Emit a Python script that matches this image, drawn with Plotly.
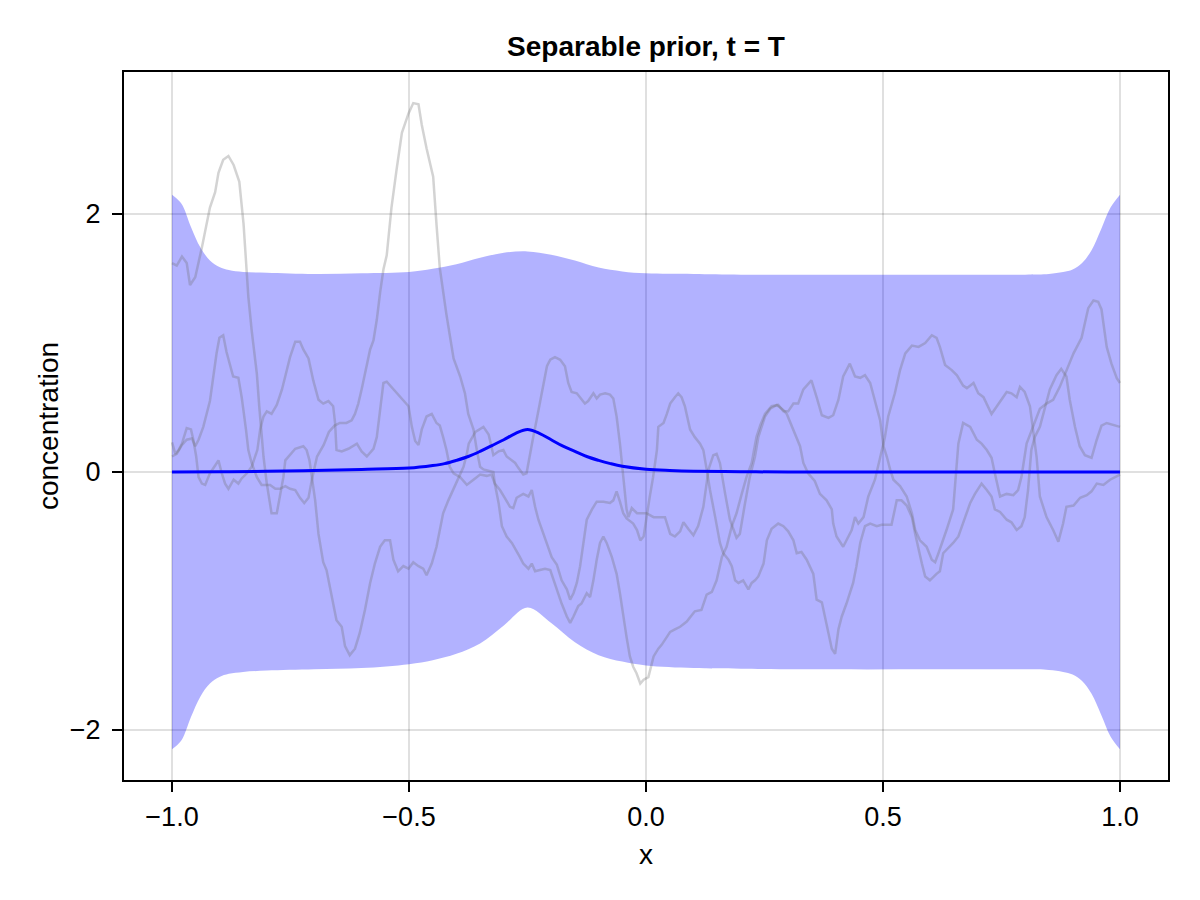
import plotly.graph_objects as go

# band (prior mean +- 2 sd)
band_x = [-1.0, -0.98, -0.96, -0.94, -0.92, -0.90, -0.88, -0.85, -0.80, -0.70, -0.60, -0.50, -0.45,
          -0.40, -0.35, -0.30, -0.25, -0.20, -0.15, -0.10, -0.05, 0.0, 0.10, 0.20, 0.40, 0.60,
          0.80, 0.85, 0.88, 0.90, 0.92, 0.94, 0.96, 0.98, 1.0]
band_upper = [2.15, 2.08, 1.90, 1.74, 1.64, 1.59, 1.565, 1.55, 1.545, 1.535, 1.54, 1.55, 1.575,
              1.61, 1.66, 1.70, 1.71, 1.685, 1.64, 1.585, 1.555, 1.54, 1.535, 1.53, 1.53, 1.53,
              1.53, 1.535, 1.55, 1.57, 1.62, 1.72, 1.88, 2.05, 2.15]
band_lower = [-2.15, -2.08, -1.90, -1.74, -1.64, -1.59, -1.565, -1.55, -1.54, -1.53, -1.52, -1.49, -1.46,
              -1.41, -1.33, -1.19, -1.05, -1.17, -1.32, -1.42, -1.47, -1.50, -1.52, -1.525, -1.53, -1.53,
              -1.53, -1.535, -1.55, -1.57, -1.62, -1.72, -1.88, -2.05, -2.15]

# prior mean
mean_x = [-1.0, -0.9, -0.8, -0.7, -0.6, -0.5, -0.45, -0.425, -0.4, -0.375, -0.35, -0.325, -0.3,
          -0.275, -0.25, -0.225, -0.2, -0.175, -0.15, -0.125, -0.1, -0.075, -0.05, 0.0, 0.05, 0.1,
          0.2, 0.3, 0.5, 0.7, 0.9, 1.0]
mean_y = [0.0, 0.002, 0.005, 0.012, 0.02, 0.03, 0.05, 0.065, 0.09, 0.12, 0.16, 0.205, 0.25,
          0.30, 0.33, 0.30, 0.25, 0.20, 0.16, 0.12, 0.09, 0.065, 0.045, 0.022, 0.012, 0.006,
          0.002, 0.0, 0.0, 0.0, 0.0, 0.0]

# three prior samples
s1_x = [-1.000, -0.990, -0.979, -0.969, -0.962, -0.951, -0.937, -0.920, -0.909, -0.902, -0.892, -0.881,
        -0.870, -0.858, -0.849, -0.839, -0.832, -0.821, -0.816, -0.807, -0.800, -0.795, -0.790, -0.779,
        -0.772, -0.765, -0.761, -0.751, -0.740, -0.723, -0.716, -0.710, -0.705, -0.698, -0.691, -0.681,
        -0.674, -0.667, -0.660, -0.653, -0.642, -0.635, -0.625, -0.614, -0.604, -0.593, -0.582, -0.572,
        -0.561, -0.551, -0.540, -0.533, -0.523, -0.512, -0.501, -0.491, -0.480, -0.470, -0.463, -0.452,
        -0.442, -0.435, -0.428, -0.417, -0.406, -0.396, -0.385, -0.378, -0.374, -0.360, -0.343, -0.332,
        -0.322, -0.311, -0.301, -0.294, -0.283, -0.276, -0.269, -0.259, -0.252, -0.245, -0.238, -0.231,
        -0.224, -0.216, -0.209, -0.202, -0.192, -0.181, -0.171, -0.164, -0.157, -0.146, -0.139, -0.129,
        -0.122, -0.111, -0.104, -0.097, -0.086, -0.076, -0.069, -0.062, -0.055, -0.048, -0.041, -0.037,
        -0.030, -0.019, -0.005, 0.001, 0.016, 0.040, 0.051, 0.061, 0.072, 0.079, 0.089, 0.100, 0.110,
        0.121, 0.132, 0.142, 0.149, 0.156, 0.167, 0.177, 0.191, 0.198, 0.209, 0.219, 0.230, 0.237,
        0.251, 0.262, 0.276, 0.290, 0.297, 0.311, 0.325, 0.332, 0.342, 0.356, 0.367, 0.381, 0.392,
        0.395, 0.402, 0.416, 0.423, 0.434, 0.441, 0.448, 0.459, 0.469, 0.483, 0.494, 0.504, 0.511,
        0.525, 0.536, 0.547, 0.561, 0.575, 0.589, 0.603, 0.613, 0.620, 0.631, 0.645, 0.656, 0.669,
        0.677, 0.691, 0.701, 0.712, 0.729, 0.740, 0.761, 0.771, 0.782, 0.789, 0.799, 0.810, 0.817,
        0.824, 0.831, 0.845, 0.859, 0.870, 0.880, 0.887, 0.902, 0.916, 0.930, 0.940, 0.951, 0.965,
        0.979, 1.000]
s1_y = [1.62, 1.60, 1.67, 1.62, 1.45, 1.51, 1.74, 2.05, 2.17, 2.32, 2.42, 2.45,
        2.38, 2.25, 1.92, 1.36, 1.10, 0.76, 0.51, 0.12, -0.09, -0.20, -0.32, -0.32,
        -0.19, -0.04, 0.09, 0.13, 0.18, 0.20, 0.17, 0.09, -0.04, -0.22, -0.48, -0.70,
        -0.76, -0.89, -1.02, -1.15, -1.20, -1.35, -1.42, -1.37, -1.25, -1.07, -0.86, -0.71,
        -0.58, -0.53, -0.53, -0.68, -0.77, -0.73, -0.75, -0.70, -0.73, -0.75, -0.80, -0.71,
        -0.58, -0.45, -0.32, -0.22, -0.13, -0.04, 0.04, 0.14, 0.22, 0.31, 0.35, 0.29,
        0.13, 0.16, 0.17, 0.12, 0.09, 0.07, 0.03, -0.02, -0.01, 0.14, 0.27, 0.40,
        0.53, 0.69, 0.82, 0.87, 0.89, 0.87, 0.82, 0.69, 0.62, 0.61, 0.58, 0.53,
        0.55, 0.61, 0.57, 0.60, 0.61, 0.60, 0.57, 0.43, 0.22, -0.04, -0.29, -0.35,
        -0.28, -0.32, -0.32, -0.32, -0.35, -0.35, -0.48, -0.50, -0.46, -0.39, -0.44, -0.49, -0.42,
        -0.27, 0.02, 0.13, 0.14, 0.07, -0.17, -0.37, -0.51, -0.48, -0.24, -0.04, 0.12, 0.27,
        0.43, 0.49, 0.52, 0.48, 0.45, 0.33, 0.20, 0.07, -0.01, -0.07, -0.17, -0.22, -0.29,
        -0.40, -0.50, -0.58, -0.53, -0.45, -0.35, -0.40, -0.35, -0.19, -0.06, 0.12, 0.27, 0.43,
        0.61, 0.79, 0.92, 0.98, 0.97, 1.00, 1.06, 1.04, 0.97, 0.83, 0.79, 0.75, 0.67,
        0.65, 0.69, 0.61, 0.58, 0.45, 0.51, 0.62, 0.61, 0.58, 0.66, 0.62, 0.51, 0.33,
        0.12, -0.19, -0.35, -0.45, -0.54, -0.40, -0.27, -0.26, -0.20, -0.18, -0.15, -0.09, -0.10,
        -0.06, -0.02]

s2_x = [-1.000, -0.993, -0.986, -0.979, -0.969, -0.960, -0.955, -0.949, -0.944, -0.937, -0.930, -0.920,
        -0.909, -0.902, -0.895, -0.888, -0.881, -0.870, -0.860, -0.853, -0.842, -0.832, -0.820, -0.814,
        -0.807, -0.800, -0.790, -0.779, -0.768, -0.758, -0.751, -0.740, -0.730, -0.723, -0.712, -0.702,
        -0.691, -0.681, -0.670, -0.660, -0.656, -0.653, -0.642, -0.628, -0.610, -0.600, -0.589, -0.575,
        -0.568, -0.561, -0.554, -0.547, -0.540, -0.526, -0.512, -0.501, -0.494, -0.487, -0.480, -0.473,
        -0.463, -0.452, -0.442, -0.435, -0.428, -0.421, -0.414, -0.406, -0.392, -0.378, -0.364, -0.350,
        -0.336, -0.326, -0.319, -0.308, -0.298, -0.287, -0.280, -0.273, -0.259, -0.248, -0.241, -0.234,
        -0.227, -0.220, -0.209, -0.199, -0.188, -0.178, -0.167, -0.160, -0.153, -0.146, -0.139, -0.132,
        -0.125, -0.114, -0.104, -0.090, -0.076, -0.069, -0.062, -0.055, -0.048, -0.041, -0.027, -0.019,
        -0.012, -0.005, 0.001, 0.008, 0.015, 0.023, 0.026, 0.037, 0.044, 0.051, 0.061, 0.068, 0.075,
        0.082, 0.093, 0.103, 0.114, 0.121, 0.128, 0.135, 0.146, 0.156, 0.163, 0.174, 0.181, 0.188,
        0.195, 0.205, 0.216, 0.223, 0.230, 0.237, 0.248, 0.255, 0.265, 0.279, 0.290, 0.300, 0.311,
        0.318, 0.328, 0.339, 0.353, 0.360, 0.371, 0.381, 0.392, 0.399, 0.406, 0.413, 0.423, 0.437,
        0.444, 0.452, 0.462, 0.473, 0.487, 0.497, 0.518, 0.529, 0.539, 0.550, 0.561, 0.568, 0.575,
        0.582, 0.589, 0.599, 0.613, 0.620, 0.627, 0.638, 0.648, 0.659, 0.669, 0.684, 0.694, 0.708,
        0.719, 0.729, 0.736, 0.747, 0.761, 0.771, 0.782, 0.792, 0.799, 0.806, 0.813, 0.820, 0.831,
        0.841, 0.852, 0.866, 0.876, 0.887, 0.894, 0.905, 0.915, 0.926, 0.940, 0.951, 0.961, 0.972,
        1.000]
s2_y = [0.23, 0.14, 0.17, 0.22, 0.34, 0.33, 0.25, 0.12, -0.04, -0.09, -0.10, -0.01,
        0.05, 0.09, -0.01, -0.09, -0.13, -0.06, -0.09, -0.05, -0.01, 0.04, 0.17, 0.33,
        0.43, 0.47, 0.45, 0.52, 0.64, 0.79, 0.89, 1.01, 1.01, 0.95, 0.88, 0.71,
        0.56, 0.53, 0.55, 0.51, 0.38, 0.17, 0.16, 0.18, 0.22, 0.16, 0.12, 0.18,
        0.27, 0.48, 0.69, 0.70, 0.67, 0.61, 0.55, 0.51, 0.35, 0.24, 0.21, 0.33,
        0.43, 0.45, 0.38, 0.36, 0.27, 0.17, 0.04, -0.01, -0.04, -0.10, -0.06, -0.02,
        -0.03, -0.02, -0.09, -0.14, -0.20, -0.27, -0.28, -0.20, -0.17, -0.19, -0.14, -0.27,
        -0.37, -0.44, -0.55, -0.66, -0.72, -0.84, -0.91, -0.99, -0.94, -0.86, -0.73, -0.53,
        -0.37, -0.29, -0.23, -0.23, -0.24, -0.22, -0.15, -0.23, -0.32, -0.36, -0.40, -0.45,
        -0.53, -0.50, -0.35, -0.19, -0.04, 0.17, 0.35, 0.38, 0.45, 0.53, 0.58, 0.61, 0.58,
        0.51, 0.33, 0.27, 0.22, 0.17, 0.02, -0.14, -0.35, -0.55, -0.63, -0.68, -0.73, -0.84,
        -0.86, -0.84, -0.91, -0.86, -0.84, -0.81, -0.71, -0.53, -0.44, -0.40, -0.42, -0.46, -0.53,
        -0.63, -0.62, -0.68, -0.79, -0.99, -1.01, -1.17, -1.37, -1.41, -1.22, -1.12, -1.02, -0.86,
        -0.73, -0.55, -0.42, -0.40, -0.42, -0.41, -0.41, -0.22, -0.22, -0.26, -0.35, -0.48, -0.60,
        -0.71, -0.81, -0.84, -0.79, -0.77, -0.63, -0.59, -0.55, -0.50, -0.40, -0.24, -0.17, -0.09,
        -0.14, -0.19, -0.29, -0.31, -0.37, -0.39, -0.45, -0.42, -0.35, -0.14, 0.17, 0.27, 0.35,
        0.49, 0.64, 0.75, 0.80, 0.74, 0.56, 0.35, 0.20, 0.13, 0.11, 0.25, 0.36, 0.38,
        0.35]

s3_x = [-1.000, -0.990, -0.979, -0.969, -0.958, -0.951, -0.944, -0.934, -0.920, -0.913, -0.906, -0.900,
        -0.892, -0.885, -0.878, -0.871, -0.860, -0.853, -0.844, -0.839, -0.832, -0.821, -0.811, -0.793,
        -0.782, -0.772, -0.761, -0.751, -0.740, -0.730, -0.721, -0.712, -0.705, -0.694, -0.680, -0.669,
        -0.657, -0.646, -0.632, -0.621, -0.614, -0.607, -0.600, -0.590, -0.582, -0.575, -0.568, -0.561,
        -0.554, -0.547, -0.537, -0.526, -0.515, -0.501, -0.491, -0.480, -0.473, -0.463, -0.449, -0.442,
        -0.435, -0.421, -0.406, -0.392, -0.382, -0.375, -0.364, -0.357, -0.350, -0.343, -0.333, -0.322,
        -0.319, -0.311, -0.304, -0.294, -0.283, -0.273, -0.266, -0.259, -0.248, -0.241, -0.234, -0.224,
        -0.213, -0.202, -0.195, -0.185, -0.178, -0.167, -0.160, -0.153, -0.143, -0.136, -0.125, -0.118,
        -0.111, -0.104, -0.097, -0.090, -0.083, -0.072, -0.062, -0.055, -0.048, -0.041, -0.034, -0.027,
        -0.020, -0.012, -0.005, 0.005, 0.016, 0.026, 0.033, 0.044, 0.051, 0.061, 0.072, 0.086, 0.096,
        0.103, 0.117, 0.128, 0.139, 0.149, 0.160, 0.170, 0.181, 0.191, 0.202, 0.212, 0.223, 0.233,
        0.241, 0.251, 0.265, 0.279, 0.290, 0.300, 0.311, 0.321, 0.332, 0.349, 0.360, 0.371, 0.385,
        0.395, 0.406, 0.416, 0.430, 0.441, 0.452, 0.462, 0.473, 0.483, 0.494, 0.501, 0.508, 0.515,
        0.522, 0.536, 0.550, 0.561, 0.568, 0.578, 0.592, 0.603, 0.610, 0.617, 0.627, 0.634, 0.648,
        0.655, 0.659, 0.669, 0.684, 0.698, 0.708, 0.719, 0.729, 0.736, 0.747, 0.761, 0.775, 0.785,
        0.792, 0.803, 0.817, 0.831, 0.845, 0.859, 0.873, 0.887, 0.902, 0.919, 0.926, 0.933, 0.944,
        0.954, 0.961, 0.972, 0.982, 0.993, 1.000]
s3_y = [0.12, 0.14, 0.21, 0.25, 0.26, 0.20, 0.25, 0.35, 0.55, 0.74, 0.92, 1.04,
        1.06, 0.93, 0.83, 0.74, 0.73, 0.58, 0.33, 0.17, 0.07, -0.04, -0.10, -0.10,
        -0.13, -0.13, -0.11, -0.13, -0.14, -0.20, -0.24, -0.20, -0.06, 0.12, 0.21, 0.31,
        0.36, 0.38, 0.38, 0.40, 0.45, 0.53, 0.64, 0.80, 0.95, 1.02, 1.18, 1.39,
        1.57, 1.68, 2.05, 2.35, 2.63, 2.78, 2.86, 2.85, 2.69, 2.51, 2.29, 1.92,
        1.58, 1.22, 0.88, 0.74, 0.61, 0.45, 0.33, 0.17, 0.04, 0.02, 0.01, 0.00,
        -0.09, -0.24, -0.42, -0.50, -0.55, -0.61, -0.66, -0.71, -0.75, -0.71, -0.77, -0.76,
        -0.75, -0.76, -0.84, -0.94, -1.02, -1.12, -1.17, -1.12, -1.04, -1.02, -0.94, -0.97,
        -0.84, -0.68, -0.55, -0.50, -0.55, -0.66, -0.79, -0.94, -1.12, -1.28, -1.43, -1.51,
        -1.56, -1.64, -1.61, -1.59, -1.43, -1.37, -1.34, -1.28, -1.24, -1.22, -1.20, -1.16, -1.11,
        -1.08, -1.07, -0.95, -0.93, -0.84, -0.66, -0.58, -0.42, -0.32, -0.17, -0.04, 0.07, 0.27,
        0.36, 0.45, 0.51, 0.52, 0.47, 0.47, 0.53, 0.53, 0.64, 0.71, 0.58, 0.44, 0.42,
        0.44, 0.56, 0.74, 0.84, 0.74, 0.73, 0.75, 0.69, 0.56, 0.40, 0.20, 0.12, 0.02,
        -0.06, -0.11, -0.19, -0.32, -0.45, -0.53, -0.58, -0.68, -0.70, -0.63, -0.53, -0.45, -0.29,
        0.04, 0.22, 0.38, 0.35, 0.25, 0.22, 0.17, 0.11, -0.01, -0.19, -0.17, -0.18, -0.14,
        -0.04, 0.22, 0.35, 0.49, 0.53, 0.56, 0.66, 0.79, 0.92, 1.04, 1.15, 1.27, 1.33,
        1.32, 1.26, 0.97, 0.84, 0.73, 0.69]

FONT = "Liberation Sans, Arial, sans-serif"

fig = go.Figure()

# band
fig.add_trace(go.Scatter(x=band_x, y=band_lower, mode="lines", line=dict(width=0, shape="spline"),
                         hoverinfo="skip", showlegend=False))
fig.add_trace(go.Scatter(x=band_x, y=band_upper, mode="lines", line=dict(width=0, shape="spline"),
                         fill="tonexty", fillcolor="rgba(0,0,255,0.3)", hoverinfo="skip",
                         showlegend=False))

# samples
for sx, sy in [(s1_x, s1_y), (s2_x, s2_y), (s3_x, s3_y)]:
    fig.add_trace(go.Scatter(x=sx, y=sy, mode="lines",
                             line=dict(color="rgba(110,110,110,0.3)", width=2.5),
                             showlegend=False))

# mean
fig.add_trace(go.Scatter(x=mean_x, y=mean_y, mode="lines",
                         line=dict(color="#0000ff", width=3, shape="spline"), showlegend=False))

axis_style = dict(showline=True, mirror=True, linecolor="black", linewidth=2,
                  ticks="outside", ticklen=10, tickwidth=2, tickcolor="black",
                  showgrid=True, gridcolor="rgba(0,0,0,0.12)", gridwidth=1.5,
                  zeroline=False, tickfont=dict(family=FONT, size=27, color="black"))

fig.update_xaxes(range=[-1.1013, 1.1013], tickvals=[-1.0, -0.5, 0.0, 0.5, 1.0], tickformat=".1f",
                 ticklabelstandoff=2,
                 title=dict(text="x", font=dict(family=FONT, size=28, color="black"), standoff=13),
                 **axis_style)
fig.update_yaxes(range=[-2.388, 3.101], tickvals=[-2, 0, 2], ticklabelstandoff=6,
                 title=dict(text="concentration", font=dict(family=FONT, size=28, color="black"),
                            standoff=3),
                 **axis_style)

# the page body adds ~8px, so margins are trimmed to keep the axes where the reference has them
fig.update_layout(
    width=1200, height=900,
    margin=dict(l=116, r=40, t=64, b=128),
    paper_bgcolor="white", plot_bgcolor="white",
    title=dict(text="<b>Separable prior, t = T</b>", x=0.5, xref="paper", y=1 - 38 / 900,
               yanchor="middle", font=dict(family=FONT, size=28, color="black")),
    font=dict(family=FONT, color="black"),
)

fig.write_html("out.html")
